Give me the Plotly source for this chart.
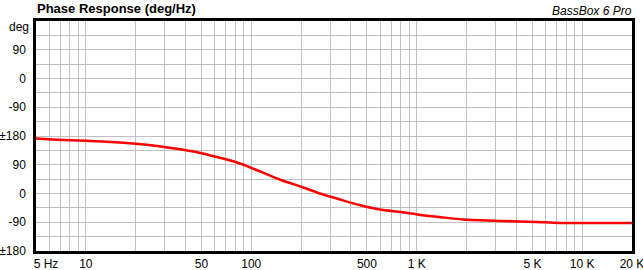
import plotly.graph_objects as go

# Data (unwrapped phase, degrees)
freq_hz = [5, 6.7, 10, 13.4, 20, 27, 35.5, 47, 62, 82, 95, 113, 150, 200, 260,
           345, 450, 600, 800, 1050, 1400, 1900, 3300, 5300, 7300, 20000]
phase_deg = [172, 168.5, 165, 162, 156, 149, 140, 129, 114, 97, 85, 69, 43, 21, 0,
             -19, -36, -50, -58, -67, -74, -81, -86, -89, -92, -92]

x_tick_vals = [5, 10, 50, 100, 500, 1000, 5000, 10000, 20000]
x_tick_text = ["\u00a0" * 6 + "5 Hz", "10", "50", "100", "500", "1 K", "5 K", "10 K", "20 K"]
x_minor_vals = [m * d for d in (1, 10, 100, 1000) for m in (2, 3, 4, 6, 7, 8, 9)
                if 5 < m * d < 20000] + [6, 7, 8, 9]
x_minor_vals = sorted(set(v for v in x_minor_vals if v not in x_tick_vals))

y_tick_vals = [-180, -90, 0, 90, 180, 270, 360, 450]
y_tick_text = ["\u00b1180", "-90", "0", "90", "\u00b1180", "-90", "0", "90"]
y_minor_vals = [-135, -45, 45, 135, 225, 315, 405, 495]

FONT = "Liberation Sans, Arial, sans-serif"
GRID = "#c0c0c0"

fig = go.Figure()
fig.add_trace(go.Scatter(x=freq_hz, y=phase_deg, mode="lines",
                         line=dict(color="#ff0000", width=2.5, shape="spline", smoothing=0.6),
                         hoverinfo="skip"))

fig.update_layout(
    width=643, height=270,
    margin=dict(l=36, r=11, t=21, b=19, autoexpand=False),
    paper_bgcolor="white", plot_bgcolor="white",
    showlegend=False,
    font=dict(family=FONT, size=12, color="#000000"),
    xaxis=dict(type="log", range=[0.69897, 4.30103], automargin=False,
               tickmode="array", tickvals=x_tick_vals, ticktext=x_tick_text,
               showgrid=True, gridcolor=GRID, gridwidth=1,
               minor=dict(tickmode="array", tickvals=x_minor_vals, showgrid=True,
                          gridcolor=GRID, gridwidth=1, ticks=""),
               showline=True, linecolor="black", linewidth=2.5, mirror=True,
               ticks="", ticklen=0, ticklabelstandoff=0, zeroline=False,
               ticklabeloverflow="allow",
               tickfont=dict(family=FONT, size=12, color="#000000")),
    yaxis=dict(range=[-180, 540], automargin=False,
               tickmode="array", tickvals=y_tick_vals, ticktext=y_tick_text,
               showgrid=True, gridcolor=GRID, gridwidth=1,
               minor=dict(tickmode="array", tickvals=y_minor_vals, showgrid=True,
                          gridcolor=GRID, gridwidth=1, ticks=""),
               showline=True, linecolor="black", linewidth=2.5, mirror=True,
               ticks="", ticklabelstandoff=5, zeroline=False,
               ticklabeloverflow="allow",
               tickfont=dict(family=FONT, size=12, color="#000000")),
    annotations=[
        dict(text="<b>Phase Response (deg/Hz)</b>", xref="paper", yref="paper",
             x=0, y=1, xanchor="left", yanchor="bottom", xshift=-1, yshift=3,
             showarrow=False, font=dict(family=FONT, size=13, color="#000000")),
        dict(text="<i>BassBox 6 Pro</i>", xref="paper", yref="paper",
             x=1, y=1, xanchor="right", yanchor="bottom", xshift=2, yshift=1,
             showarrow=False, font=dict(family=FONT, size=12, color="#000000")),
        dict(text="deg", xref="paper", yref="paper",
             x=0, y=1, xanchor="right", yanchor="middle", xshift=-5, yshift=-6,
             showarrow=False, font=dict(family=FONT, size=12, color="#000000")),
    ],
)

fig.write_html("out.html")
